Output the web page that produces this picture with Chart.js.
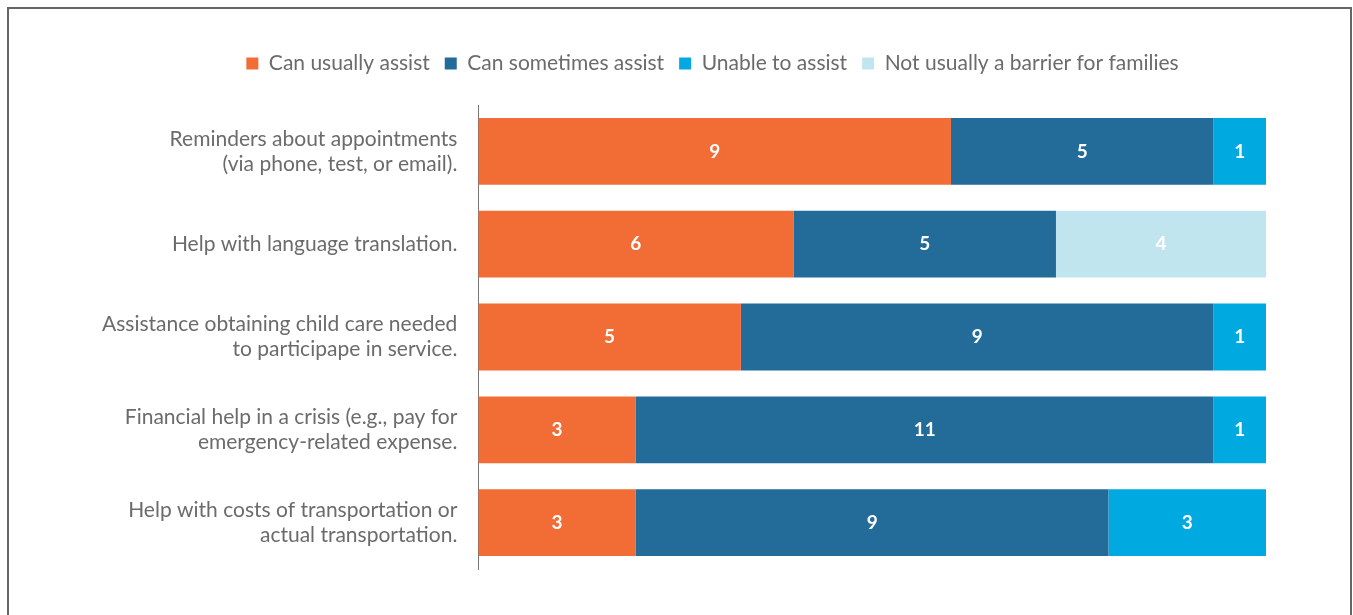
<!DOCTYPE html>
<html>
<head>
<meta charset="utf-8">
<script src="https://cdn.jsdelivr.net/npm/chart.js@4"></script>
<style>
  body { margin: 0; background: #fff; }
  #frame {
    position: absolute; left: 7px; top: 7px;
    width: 1341px; height: 640px;
    border: 2px solid #666; border-bottom: none;
    background: #fff;
  }
  canvas { display: block; }
</style>
</head>
<body>
<div id="frame"><canvas id="barChart" width="1341" height="640"></canvas></div>
<script>
// categorias (eixo y)
const categorias = [
    ['Reminders about appointments', '(via phone, test, or email).'],
    'Help with language translation.',
    ['Assistance obtaining child care needed', 'to participape in service.'],
    ['Financial help in a crisis (e.g., pay for', 'emergency-related expense.'],
    ['Help with costs of transportation or', 'actual transportation.']
];

// séries
const canUsually = [9, 6, 5, 3, 3];
const canSometimes = [5, 5, 9, 11, 9];
const unableTo = [1, 0, 1, 1, 3];
const notBarrier = [0, 4, 0, 0, 0];

const textoCinza = '#6b6b6b';

// rótulos brancos no meio de cada barra
const rotulosPlugin = {
    id: 'rotulos',
    afterDatasetsDraw(chart) {
        const ctx = chart.ctx;
        ctx.save();
        ctx.fillStyle = '#fff';
        ctx.font = 'bold 19px Lato';
        ctx.textAlign = 'center';
        ctx.textBaseline = 'middle';
        chart.data.datasets.forEach((ds, i) => {
            chart.getDatasetMeta(i).data.forEach((bar, j) => {
                const v = ds.data[j];
                if (!v) return;
                ctx.fillText(v, (bar.x + bar.base) / 2, bar.y);
            });
        });
        ctx.restore();
    }
};

// espaço extra abaixo da legenda e deslocamento para a direita
const legendaPlugin = {
    id: 'legendaEspaco',
    beforeInit(chart) {
        const fitOriginal = chart.legend.fit;
        chart.legend.fit = function() {
            fitOriginal.bind(chart.legend)();
            this.height += 20;
        };
        const drawOriginal = chart.legend.draw;
        chart.legend.draw = function() {
            chart.ctx.save();
            chart.ctx.translate(35, -1);
            drawOriginal.apply(chart.legend, arguments);
            chart.ctx.restore();
        };
    }
};

new Chart(document.getElementById('barChart'), {
    type: 'bar',
    data: {
        labels: categorias,
        datasets: [
            { label: 'Can usually assist', data: canUsually, backgroundColor: '#F26C35' },
            { label: 'Can sometimes assist', data: canSometimes, backgroundColor: '#236B98' },
            { label: 'Unable to assist', data: unableTo, backgroundColor: '#00A9E0' },
            { label: 'Not usually a barrier for families', data: notBarrier, backgroundColor: '#C0E5EF' }
        ]
    },
    options: {
        indexAxis: 'y',
        responsive: false,
        animation: false,
        layout: { padding: { left: 80, right: 84, top: 30, bottom: 80 } },
        datasets: { bar: { categoryPercentage: 0.72, barPercentage: 1, borderWidth: 0 } },
        plugins: {
            legend: {
                labels: {
                    boxWidth: 12,
                    boxHeight: 12,
                    padding: 15,
                    color: textoCinza,
                    font: { family: 'Lato', size: 21 }
                }
            },
            tooltip: { enabled: false }
        },
        scales: {
            x: {
                stacked: true,
                min: 0,
                max: 15,
                display: false
            },
            y: {
                stacked: true,
                grid: { display: false },
                border: { display: true, color: '#777', width: 1 },
                ticks: {
                    color: textoCinza,
                    padding: 13,
                    font: { family: 'Lato', size: 21, lineHeight: 1.18 }
                }
            }
        }
    },
    plugins: [rotulosPlugin, legendaPlugin]
});
</script>
</body>
</html>
